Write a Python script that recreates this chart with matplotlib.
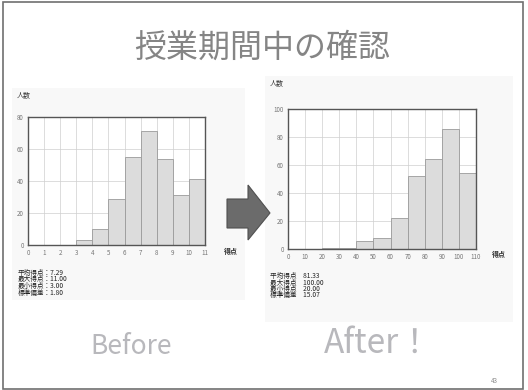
import matplotlib.pyplot as plt
import matplotlib.patches as patches

plt.rcParams['font.family'] = ['Noto Sans CJK JP', 'DejaVu Sans']

# Before: 得点 0..11, 人数
before_edges  = [3, 4, 5, 6, 7, 8, 9, 10]
before_counts = [3, 10, 29, 55, 71, 54, 31, 41]
before_xticks = list(range(0, 12))
before_yticks = [0, 20, 40, 60, 80]
before_stats  = ["平均得点：7.29", "最大得点：11.00", "最小得点：3.00", "標準偏差：1.80"]

# After: 得点 0..110, 人数
after_edges  = [20, 30, 40, 50, 60, 70, 80, 90, 100]
after_counts = [1, 1, 6, 8, 22, 52, 64, 86, 54]
after_xticks = list(range(0, 120, 10))
after_yticks = [0, 20, 40, 60, 80, 100]
after_stats  = ["平均得点　81.33", "最大得点　100.00", "最小得点　20.00", "標準偏差　15.07"]

W, H = 528, 390
fig = plt.figure(figsize=(W / 100, H / 100), dpi=100)
fig.patch.set_facecolor('white')

def px(x, y, w, h):
    # ピクセル座標 -> figure座標
    return [x / W, 1 - (y + h) / H, w / W, h / H]

# スライド枠
fig.add_artist(patches.Rectangle((3 / W, 1 / H), 520 / W, 387 / H, transform=fig.transFigure,
                                 fill=False, edgecolor='#707070', lw=1.2))

# 画像の背景（薄いグレー）
fig.add_artist(patches.Rectangle((12 / W, 1 - 300 / H), 233 / W, 212 / H, transform=fig.transFigure,
                                 facecolor='#f8f8f8', edgecolor='none', zorder=-1))
fig.add_artist(patches.Rectangle((265 / W, 1 - 322 / H), 248 / W, 246 / H, transform=fig.transFigure,
                                 facecolor='#f8f8f8', edgecolor='none', zorder=-1))

fig.text(262 / W, 1 - 48 / H, "授業期間中の確認", ha='center', va='center',
         fontsize=23, color='#858585')

def draw_hist(rect, edges, counts, width, xticks, yticks, ylabel_pos, xlabel_pos, stats, stats_pos):
    ax = fig.add_axes(px(*rect))
    ax.set_facecolor('white')
    ax.bar(edges, counts, width=width, align='edge', color='#dcdcdc',
           edgecolor='#9a9a9a', linewidth=0.6, zorder=2)
    ax.set_xlim(xticks[0], xticks[-1])
    ax.set_ylim(yticks[0], yticks[-1])
    ax.set_xticks(xticks)
    ax.set_yticks(yticks)
    ax.grid(True, color='#cfcfcf', linewidth=0.5, zorder=0)
    ax.tick_params(length=0, labelsize=4.5, labelcolor='#777777', pad=3)
    for s in ax.spines.values():
        s.set_color('#555555')
        s.set_linewidth(1.0)
    fig.text(ylabel_pos[0] / W, 1 - ylabel_pos[1] / H, "人数", fontsize=5, color='#333333',
             ha='left', va='center')
    fig.text(xlabel_pos[0] / W, 1 - xlabel_pos[1] / H, "得点", fontsize=5, color='#333333',
             ha='left', va='center', fontweight='bold')
    for i, line in enumerate(stats):
        fig.text(stats_pos[0] / W, 1 - (stats_pos[1] + i * 6.5) / H, line, fontsize=4.8,
                 color='#222222', ha='left', va='center')
    return ax

draw_hist((28, 117, 177, 128), before_edges, before_counts, 1, before_xticks, before_yticks,
          (17, 96), (224, 251), before_stats, (18, 273))
draw_hist((288, 109, 188, 140), after_edges, after_counts, 10, after_xticks, after_yticks,
          (270, 84), (492, 254), after_stats, (270, 276))

# 矢印
arrow = patches.Polygon([(227, 199), (248, 199), (248, 185), (270, 213), (248, 240), (248, 228), (227, 228)],
                        closed=True, facecolor='#6b6b6b', edgecolor='#505050', lw=0.8)
arrow.set_xy([(x / W, 1 - y / H) for x, y in arrow.get_xy()])
arrow.set_transform(fig.transFigure)
fig.add_artist(arrow)

fig.text(131 / W, 1 - 347 / H, "Before", ha='center', va='center', fontsize=19, color='#b8b8bc')
fig.text(378 / W, 1 - 343 / H, "After！", ha='center', va='center', fontsize=24, color='#b8b8bc')
fig.text(494 / W, 1 - 381 / H, "43", ha='center', va='center', fontsize=4.5, color='#888888')

fig.savefig("out.png", dpi=100)
